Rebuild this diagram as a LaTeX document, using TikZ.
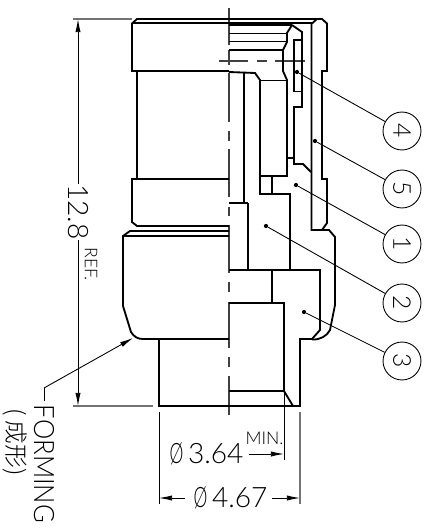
\documentclass[tikz,border=0pt]{standalone}
\usepackage{fontspec}
\setmainfont{Lato Light}
\newfontfamily\cjkfont{Noto Sans CJK SC Light}
\usetikzlibrary{arrows.meta}

\newcommand{\dia}{\scalebox{0.62}[1]{Ø}\,}

\tikzset{
    outline/.style={line width=1.05pt, line join=miter},
    thinline/.style={line width=0.7pt},
    dimline/.style={line width=0.5pt},
    centerline/.style={line width=0.6pt, black!75},
    extline/.style={line width=0.8pt, black!55},
    dimarrow/.style={dimline, -{Latex[length=7.5pt,width=3pt]}},
    balloon/.style={circle, draw, line width=0.5pt, minimum size=21.6pt, inner sep=0pt, font=\fontsize{14}{14}\selectfont},
    leaderdot/.style={circle, fill, inner sep=0pt, minimum size=2.4pt},
    bignum/.style={inner sep=0pt, font=\fontsize{16}{16}\selectfont},
    smalltxt/.style={inner sep=0pt, font=\fontsize{10}{10}\selectfont}
}

\begin{document}
\begin{tikzpicture}[x=0.02cm, y=-0.02cm]
    \useasboundingbox (0,0) rectangle (430,528);

    % Linea de centro
    \foreach \a/\b in {8/45,50/65,73/122,131/141,149/197,207/216,225/273,282/292,302/348,357/367,376/415}
        \draw[centerline] (229,\a) -- (229,\b);
    % Eje transversal
    \foreach \a/\b in {219/248,257/267,275/305}
        \draw[centerline] (\a,61) -- (\b,61);

    % Contorno exterior izquierdo
    \draw[outline] (229,19) -- (137,19) -- (132,23.5) -- (132,71) -- (229,71);
    \draw[outline] (137,71) -- (137,179);
    \draw[outline] (229,179) -- (132,179) -- (132,222) -- (137,226) -- (229,226);
    \draw[outline] (229,231) -- (130,231) -- (123,236) -- (123,306) -- (131,332)
        .. controls (134,337) and (138,339) .. (143,339) -- (229,339);
    \draw[outline] (123,236) -- (229,236);
    \draw[thinline] (132,23) -- (312,23);
    \draw[outline] (159,339) -- (159,406) -- (300,406) -- (300,339) -- (312,339);

    % Manguito exterior (derecha)
    \draw[outline] (229,19) -- (322,19) -- (327,23.5) -- (327,71) -- (322,71) -- (322,179)
        -- (327,179) -- (327,223) -- (322,230);
    \draw[outline] (229,25) -- (292,25);
    \draw[outline] (312,23.5) -- (317,19);
    \draw[outline] (311.5,23.5) -- (311.5,230) -- (329,230) -- (335,237) -- (335,305) -- (330,330)
        .. controls (327,336) and (320,340) .. (312,339.5);

    % Pieza interior superior
    \draw[outline] (292,25) -- (287,33) -- (287,42) -- (283,50) -- (283,71) -- (287,80) -- (287,176)
        -- (260,176) -- (260,80) -- (255,73) -- (229,72);
    \draw[thinline] (229,33.5) -- (287,33.5);
    \draw[thinline] (229,41.5) -- (287,41.5);
    \draw[thinline] (229,50) -- (283,50);
    \draw[outline] (260,80.5) -- (287,80.5);

    % Cuerpo central
    \draw[outline] (292,25) -- (302,32) -- (302,107) -- (294,107) -- (294,164) -- (303,164) -- (311,172);
    \draw[outline] (287,158) -- (294,158);
    \draw[outline] (260,176) -- (260,194) -- (290,194) -- (290,270);
    \draw[outline] (272,176) -- (272,194);
    \draw[outline] (244,72) -- (244,203) -- (229,203);
    \draw[outline] (248,203) -- (248,270);
    \draw[outline] (244,203) -- (248,203);

    % Elemento 4
    \draw[outline] (302,40) -- (294,40) -- (294,91.5) -- (302,91.5);

    % Pieza inferior
    \draw[outline] (229,270) -- (320,270) -- (320,330) -- (312,339);
    \draw[outline] (272,270) -- (272,303);
    \draw[outline] (229,303) -- (284,303) -- (284,391) -- (293,406);
    \draw[thinline] (229,391) -- (284,391);

    % Globos de referencia
    \node[balloon] (c4) at (402,131) {\rotatebox{-90}{4}};
    \node[balloon] (c5) at (402,189) {\rotatebox{-90}{5}};
    \node[balloon] (c1) at (402,244) {\rotatebox{-90}{1}};
    \node[balloon] (c2) at (402,303) {\rotatebox{-90}{2}};
    \node[balloon] (c3) at (402,361) {\rotatebox{-90}{3}};
    \node[leaderdot] (d4) at (297,72) {};
    \node[leaderdot] (d5) at (315,141) {};
    \node[leaderdot] (d1) at (296,185) {};
    \node[leaderdot] (d2) at (266,226) {};
    \node[leaderdot] (d3) at (304,312) {};
    \foreach \n in {1,2,3,4,5}
        \draw[dimline] (d\n) -- (c\n);

    % Cota 12.8
    \coordinate (htop) at (78,19);
    \coordinate (hbot) at (78,406);
    \node[bignum, rotate=-90] (hval) at (78,212) {12.8};
    \node[smalltxt, rotate=-90] (href) at (91,264) {REF.};
    \draw[extline] (73,19) -- (132,19);
    \draw[extline] (73,406) -- (153,406);
    \draw[dimarrow] (hval) -- (htop);
    \draw[dimarrow] (hval) -- (hbot);

    % Nota de conformado
    \node[bignum, rotate=-90, xscale=0.91] (form) at (44,464) {FORMING};
    \node[rotate=-90, inner sep=0pt, font=\fontsize{13.5}{14}\cjkfont] (formcn) at (15,442) {( 成形)};
    \coordinate (formtip) at (133,338);
    \coordinate (formend) at (44,388);
    \draw[dimline] (44,401) -- (formend);
    \draw[dimarrow] (formend) -- (formtip);

    % Cota diametro interior
    \node[bignum] (dia1) at (206.5,454) {\dia 3.64};
    \node[smalltxt] (minlab) at (264.5,438) {MIN.};
    \coordinate (dia1tip) at (284,454);
    \draw[dimarrow] (249,454) -- (dia1tip);
    \draw[dimline] (284,391) -- (284,460);

    % Cota diametro exterior
    \node[bignum] (dia2) at (230.5,498) {\dia 4.67};
    \coordinate (dia2l) at (159,498);
    \coordinate (dia2r) at (300,498);
    \draw[dimarrow] (185,498) -- (dia2l);
    \draw[dimarrow] (272,498) -- (dia2r);
    \draw[dimline] (159,412) -- (159,504);
    \draw[extline] (300,412) -- (300,504);
\end{tikzpicture}
\end{document}
